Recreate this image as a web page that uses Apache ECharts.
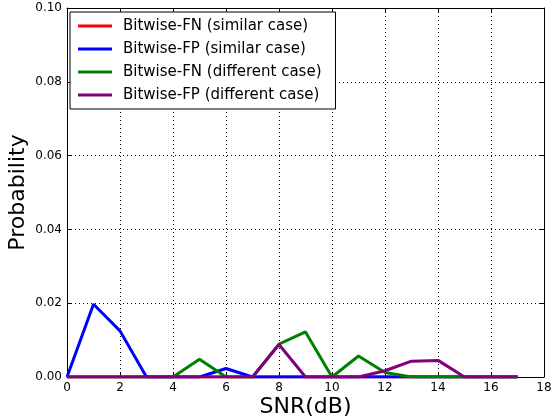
<!DOCTYPE html>
<html>
<head>
<meta charset="utf-8">
<script src="https://cdn.jsdelivr.net/npm/echarts@6/dist/echarts.min.js"></script>
<style>
  html, body { margin: 0; padding: 0; background: #fff; }
  #chart { width: 551px; height: 419px; }
</style>
</head>
<body>
<div id="chart"></div>
<script>
const snr = [0, 1, 2, 3, 4, 5, 6, 7, 8, 9, 10, 11, 12, 13, 14, 15, 16, 17];

const fnSimilar = [0, 0, 0, 0, 0, 0, 0, 0, 0, 0, 0, 0, 0, 0, 0, 0, 0, 0];
const fpSimilar = [0, 0.0197, 0.0125, 0, 0, 0, 0.0023, 0, 0, 0, 0, 0, 0, 0, 0, 0, 0, 0];
const fnDifferent = [0, 0, 0, 0, 0, 0.0048, 0, 0, 0.0089, 0.0122, 0, 0.0057, 0.0012, 0, 0, 0, 0, 0];
const fpDifferent = [0, 0, 0, 0, 0, 0, 0, 0, 0.0088, 0, 0, 0, 0.0017, 0.0043, 0.0045, 0, 0, 0];

const seriesNames = [
  "Bitwise-FN (similar case)",
  "Bitwise-FP (similar case)",
  "Bitwise-FN (different case)",
  "Bitwise-FP (different case)"
];
const seriesColors = ["#ff0000", "#0000ff", "#008000", "#800080"];
const seriesValues = [fnSimilar, fpSimilar, fnDifferent, fpDifferent];

const font = "DejaVu Sans";
const chart = echarts.init(document.getElementById("chart"));

const tickStyle = { show: true, inside: true, length: 4, lineStyle: { color: "#000", width: 1 } };
const gridLine = { show: true, lineStyle: { color: "#000", type: [1, 3], width: 1 } };

chart.setOption({
  animation: false,
  backgroundColor: "#fff",
  textStyle: { fontFamily: font },
  grid: { left: 67, right: 7, top: 8, bottom: 42, containLabel: false, outerBoundsMode: "none" },
  legend: {
    orient: "vertical",
    left: 70,
    top: 12,
    padding: [6, 14, 6, 8],
    borderColor: "#000",
    borderWidth: 1,
    backgroundColor: "#fff",
    icon: "rect",
    itemWidth: 34,
    itemHeight: 3,
    itemGap: 7,
    textStyle: { fontFamily: font, fontSize: 15, color: "#000", lineHeight: 16, padding: [0, 0, 0, 6] },
    data: seriesNames
  },
  xAxis: [
    {
      type: "value", min: 0, max: 18, interval: 2,
      name: "SNR(dB)", nameLocation: "middle", nameGap: 19, nameMoveOverlap: false,
      nameTextStyle: { fontFamily: font, fontSize: 22, color: "#000" },
      axisLine: { show: true, onZero: false, lineStyle: { color: "#000", width: 1 } },
      axisTick: tickStyle,
      axisLabel: { color: "#000", fontSize: 12, fontFamily: font, margin: 5 },
      splitLine: gridLine
    },
    {
      type: "value", min: 0, max: 18, interval: 2, position: "top",
      axisLine: { show: true, onZero: false, lineStyle: { color: "#000", width: 1 } },
      axisTick: tickStyle,
      axisLabel: { show: false },
      splitLine: { show: false }
    }
  ],
  yAxis: [
    {
      type: "value", min: 0, max: 0.1, interval: 0.02,
      name: "Probability", nameLocation: "middle", nameGap: 38, nameMoveOverlap: false,
      nameTextStyle: { fontFamily: font, fontSize: 22, color: "#000" },
      axisLine: { show: true, onZero: false, lineStyle: { color: "#000", width: 1 } },
      axisTick: tickStyle,
      axisLabel: { color: "#000", fontSize: 12, fontFamily: font, margin: 5,
        formatter: v => v.toFixed(2) },
      splitLine: gridLine
    },
    {
      type: "value", min: 0, max: 0.1, interval: 0.02, position: "right",
      axisLine: { show: true, onZero: false, lineStyle: { color: "#000", width: 1 } },
      axisTick: tickStyle,
      axisLabel: { show: false },
      splitLine: { show: false }
    }
  ],
  series: seriesNames.map((name, i) => ({
    name: name,
    type: "line",
    xAxisIndex: 0,
    yAxisIndex: 0,
    showSymbol: false,
    symbol: "none",
    color: seriesColors[i],
    lineStyle: { color: seriesColors[i], width: 3 },
    data: snr.map((x, j) => [x, seriesValues[i][j]]),
    z: 2 + i
  }))
});
</script>
</body>
</html>
